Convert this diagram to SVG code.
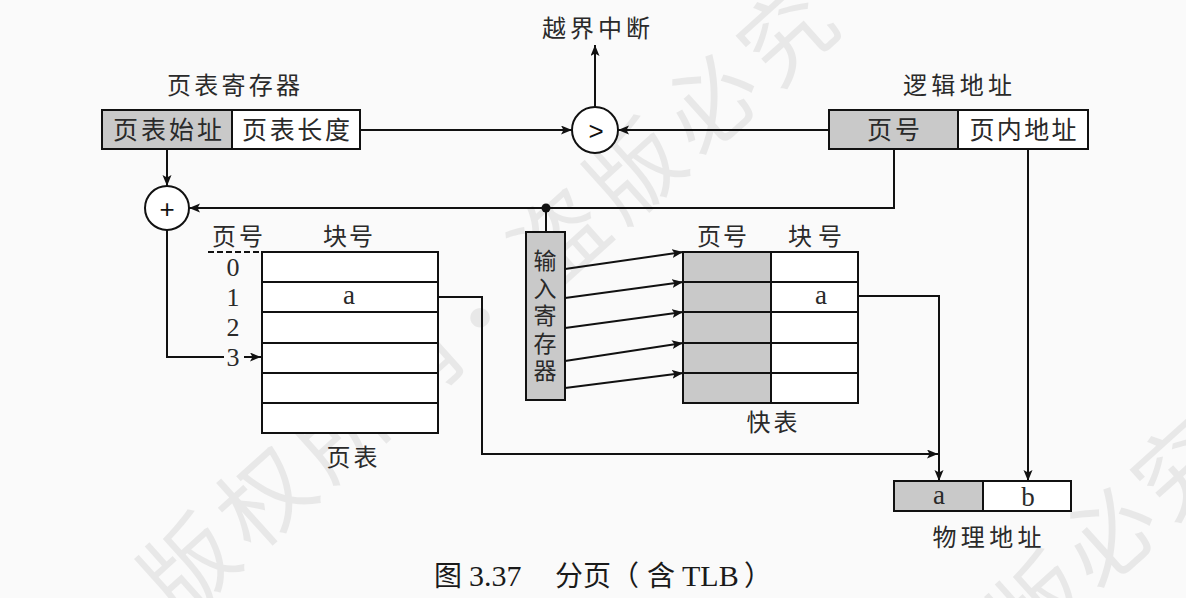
<svg xmlns="http://www.w3.org/2000/svg" width="1186" height="598" viewBox="0 0 1186 598">
<style>
.cjk{font-family:"Noto Sans CJK SC","Noto Sans",sans-serif;fill:#2a2a2a;}
.lat{font-family:"Liberation Serif","Times New Roman",serif;fill:#2a2a2a;}
.box{stroke:#111;stroke-width:2;}
.grey{fill:#c9c9c9;}
.white{fill:#ffffff;}
.ln{fill:none;stroke:#111;stroke-width:2;}
.wm{font-family:"Noto Sans CJK SC",sans-serif;font-size:92px;fill:#000;fill-opacity:0.07;}
</style>
<defs>
<marker id="ah" markerUnits="userSpaceOnUse" markerWidth="12" markerHeight="10" refX="11" refY="4.5" orient="auto">
<path d="M0,0 L11,4.5 L0,9 L2.5,4.5 z" fill="#111"/>
</marker>
</defs>
<rect x="0" y="0" width="1186" height="598" fill="#fafafa"/>

<g id="watermark">
<text class="wm" text-anchor="middle" transform="translate(190,567) rotate(-42)" y="32">版</text>
<text class="wm" text-anchor="middle" transform="translate(266,499) rotate(-42)" y="32">权</text>
<text class="wm" text-anchor="middle" transform="translate(342,431) rotate(-42)" y="32">所</text>
<text class="wm" text-anchor="middle" transform="translate(418,363) rotate(-42)" y="32">有</text>
<text class="wm" text-anchor="middle" transform="translate(482,320) rotate(-42)" y="32">·</text>
<text class="wm" text-anchor="middle" transform="translate(560,240) rotate(-42)" y="32">盗</text>
<text class="wm" text-anchor="middle" transform="translate(636,172) rotate(-42)" y="32">版</text>
<text class="wm" text-anchor="middle" transform="translate(712,104) rotate(-42)" y="32">必</text>
<text class="wm" text-anchor="middle" transform="translate(788,36) rotate(-42)" y="32">究</text>
<text class="wm" text-anchor="middle" transform="translate(1040,605) rotate(-42)" y="32">版</text>
<text class="wm" text-anchor="middle" transform="translate(1110,537) rotate(-42)" y="32">必</text>
<text class="wm" text-anchor="middle" transform="translate(1182,470) rotate(-42)" y="32">究</text>
</g>

<g id="connectors">
<line class="ln" x1="360" y1="130" x2="572" y2="130" marker-end="url(#ah)"/>
<line class="ln" x1="829" y1="130" x2="618" y2="130" marker-end="url(#ah)"/>
<line class="ln" x1="595" y1="107" x2="595" y2="45" marker-end="url(#ah)"/>
<line class="ln" x1="167" y1="149" x2="167" y2="186" marker-end="url(#ah)"/>
<polyline class="ln" points="894,149 894,208 189,208" marker-end="url(#ah)"/>
<line class="ln" x1="546" y1="208" x2="546" y2="232"/>
<circle cx="546" cy="208" r="4.5" fill="#111"/>
<polyline class="ln" points="167,230 167,357 224,357"/>
<line class="ln" x1="244" y1="357" x2="261" y2="357" marker-end="url(#ah)"/>
<polyline class="ln" points="438,297 482,297 482,454 938,454" marker-end="url(#ah)"/>
<polyline class="ln" points="858,296 939,296 939,481" marker-end="url(#ah)"/>
<line class="ln" x1="1028" y1="149" x2="1028" y2="481" marker-end="url(#ah)"/>
<line class="ln" x1="565" y1="269" x2="683" y2="252" marker-end="url(#ah)"/>
<line class="ln" x1="565" y1="298" x2="683" y2="282" marker-end="url(#ah)"/>
<line class="ln" x1="565" y1="328" x2="683" y2="312" marker-end="url(#ah)"/>
<line class="ln" x1="565" y1="361" x2="683" y2="343" marker-end="url(#ah)"/>
<line class="ln" x1="565" y1="388" x2="683" y2="373" marker-end="url(#ah)"/>
</g>

<g id="overflow-label">
<text class="cjk" x="596" y="37" font-size="24" text-anchor="middle" textLength="108" lengthAdjust="spacing">越界中断</text>
</g>

<g id="page-table-register">
<text class="cjk" x="233.5" y="94" font-size="24" text-anchor="middle" textLength="133" lengthAdjust="spacing">页表寄存器</text>
<rect class="box grey" x="102" y="110" width="130" height="39"/>
<rect class="box white" x="232" y="110" width="128" height="39"/>
<text class="cjk" x="167.5" y="138.5" font-size="25" text-anchor="middle" textLength="109" lengthAdjust="spacing">页表始址</text>
<text class="cjk" x="296" y="138.5" font-size="25" text-anchor="middle" textLength="108" lengthAdjust="spacing">页表长度</text>
</g>

<g id="comparator">
<circle class="box" cx="595" cy="130" r="23" fill="#ffffff"/>
<text x="596" y="139.5" font-family="Liberation Sans, Arial, sans-serif" font-size="26" text-anchor="middle" fill="#111">&gt;</text>
</g>

<g id="logical-address">
<text class="cjk" x="957.5" y="94" font-size="24" text-anchor="middle" textLength="109" lengthAdjust="spacing">逻辑地址</text>
<rect class="box grey" x="829" y="110" width="129" height="39"/>
<rect class="box white" x="958" y="110" width="130" height="39"/>
<text class="cjk" x="893.5" y="138.5" font-size="25" text-anchor="middle" textLength="53" lengthAdjust="spacing">页号</text>
<text class="cjk" x="1023" y="138.5" font-size="25" text-anchor="middle" textLength="107" lengthAdjust="spacing">页内地址</text>
</g>

<g id="adder">
<circle class="box" cx="167" cy="208" r="22" fill="#ffffff"/>
<text x="167" y="217.5" font-family="Liberation Sans, Arial, sans-serif" font-size="26" text-anchor="middle" fill="#111">+</text>
</g>

<g id="page-table">
<text class="cjk" x="237.5" y="245" font-size="24" text-anchor="middle" textLength="51" lengthAdjust="spacing">页号</text>
<text class="cjk" x="348" y="245" font-size="24" text-anchor="middle" textLength="50" lengthAdjust="spacing">块号</text>
<line x1="208" y1="252" x2="262" y2="252" stroke="#111" stroke-width="2" stroke-dasharray="6,3"/>
<rect class="box white" x="262" y="252" width="176" height="181"/>
<line class="ln" x1="262" y1="282" x2="438" y2="282"/>
<line class="ln" x1="262" y1="312" x2="438" y2="312"/>
<line class="ln" x1="262" y1="343" x2="438" y2="343"/>
<line class="ln" x1="262" y1="373" x2="438" y2="373"/>
<line class="ln" x1="262" y1="403" x2="438" y2="403"/>
<text class="lat" x="233" y="276" font-size="26" text-anchor="middle">0</text>
<text class="lat" x="233" y="306" font-size="26" text-anchor="middle">1</text>
<text class="lat" x="233" y="336" font-size="26" text-anchor="middle">2</text>
<text class="lat" x="233" y="366" font-size="26" text-anchor="middle">3</text>
<text class="lat" x="349" y="304" font-size="27" text-anchor="middle">a</text>
<text class="cjk" x="352" y="466" font-size="24" text-anchor="middle" textLength="51" lengthAdjust="spacing">页表</text>
</g>

<g id="input-register">
<rect class="box grey" x="526" y="232" width="39" height="168"/>
<text class="cjk" x="545" y="269" font-size="23" text-anchor="middle">输</text>
<text class="cjk" x="545" y="296.5" font-size="23" text-anchor="middle">入</text>
<text class="cjk" x="545" y="324" font-size="23" text-anchor="middle">寄</text>
<text class="cjk" x="545" y="351.5" font-size="23" text-anchor="middle">存</text>
<text class="cjk" x="545" y="379" font-size="23" text-anchor="middle">器</text>
</g>

<g id="tlb">
<text class="cjk" x="722" y="245" font-size="24" text-anchor="middle" textLength="50" lengthAdjust="spacing">页号</text>
<text class="cjk" x="815" y="245" font-size="24" text-anchor="middle" textLength="54" lengthAdjust="spacing">块号</text>
<rect class="box grey" x="683" y="252" width="88" height="151"/>
<rect class="box white" x="771" y="252" width="87" height="151"/>
<line class="ln" x1="683" y1="282" x2="858" y2="282"/>
<line class="ln" x1="683" y1="312" x2="858" y2="312"/>
<line class="ln" x1="683" y1="343" x2="858" y2="343"/>
<line class="ln" x1="683" y1="373" x2="858" y2="373"/>
<text class="lat" x="821" y="304" font-size="27" text-anchor="middle">a</text>
<text class="cjk" x="772" y="431" font-size="24" text-anchor="middle" textLength="51" lengthAdjust="spacing">快表</text>
</g>

<g id="physical-address">
<rect class="box grey" x="894" y="481" width="89" height="30"/>
<rect class="box white" x="983" y="481" width="88" height="30"/>
<text class="lat" x="939" y="504" font-size="27" text-anchor="middle">a</text>
<text class="lat" x="1028" y="506" font-size="27" text-anchor="middle">b</text>
<text class="cjk" x="987" y="546" font-size="24" text-anchor="middle" textLength="109" lengthAdjust="spacing">物理地址</text>
</g>

<g id="caption">
<text y="586" font-size="28" fill="#1a1a1a"><tspan class="cjk" x="434" style="fill:#1a1a1a">图</tspan><tspan class="lat" x="469" font-size="30" style="fill:#1a1a1a">3.37</tspan><tspan class="cjk" x="555" style="fill:#1a1a1a">分页（</tspan><tspan class="cjk" x="647" style="fill:#1a1a1a">含</tspan><tspan class="lat" x="682" font-size="30" style="fill:#1a1a1a">TLB</tspan><tspan class="cjk" x="744" style="fill:#1a1a1a">）</tspan></text>
</g>
</svg>
